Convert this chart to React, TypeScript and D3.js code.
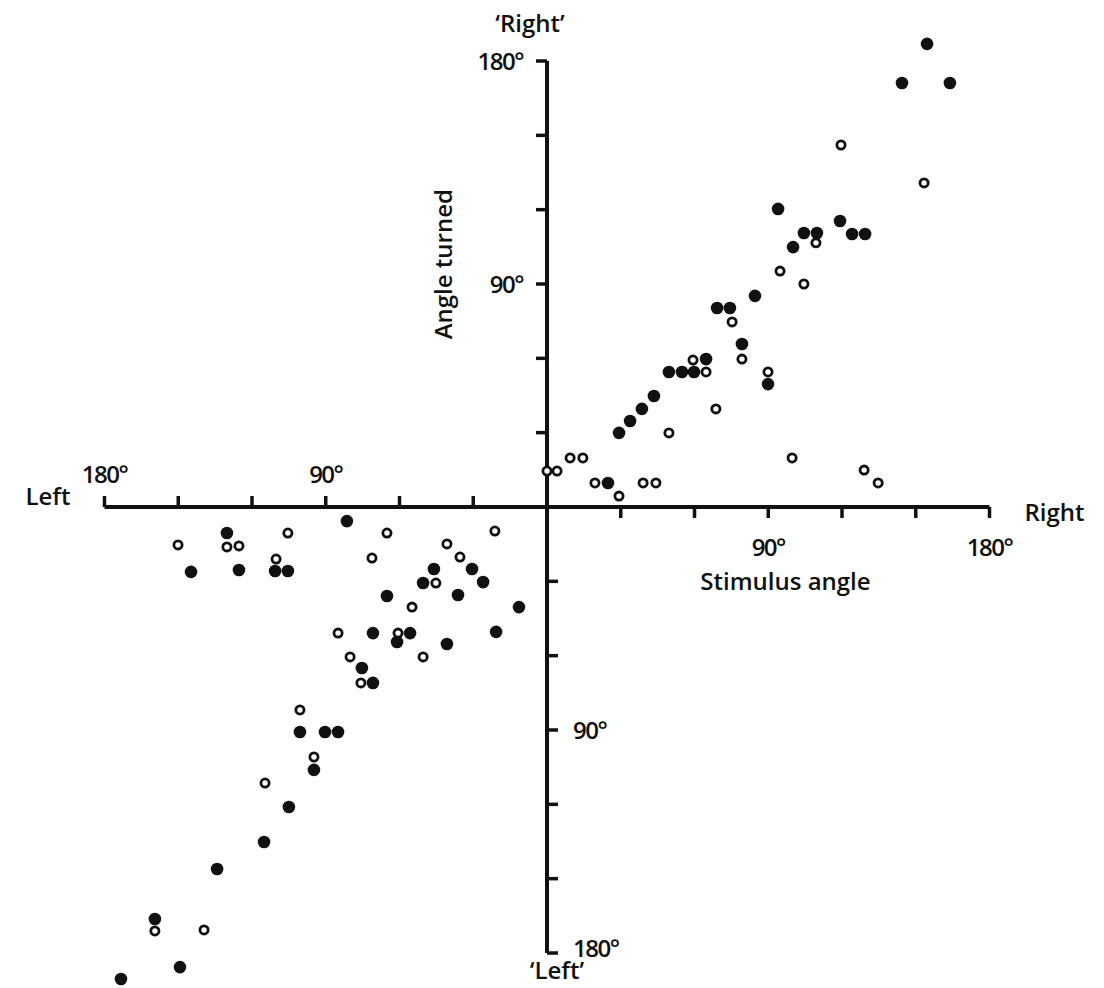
import * as d3 from 'd3'

// [stimulus angle, angle turned] in degrees; left = negative
const rightFilled: [number, number][] = [
  [154.6, 186.9], [144.4, 171.1], [163.9, 171.1], [94.0, 120.3], [119.2, 115.4],
  [104.5, 110.6], [109.8, 110.6], [124.1, 110.2], [129.4, 110.2], [100.1, 104.9],
  [84.6, 85.2], [69.2, 80.3], [74.4, 80.3], [79.3, 65.8], [49.6, 54.5],
  [54.9, 54.5], [59.8, 54.5], [64.7, 59.7], [89.9, 49.6], [43.5, 44.8],
  [38.6, 39.6], [33.8, 34.7], [29.3, 29.9], [24.8, 9.7]
]

const rightOpen: [number, number][] = [
  [119.6, 146.1], [153.4, 130.8], [109.4, 106.6], [94.8, 95.2], [104.5, 90.0],
  [75.3, 74.7], [79.3, 59.7], [59.4, 59.3], [64.7, 54.5], [89.9, 54.5],
  [68.7, 39.6], [49.6, 29.9], [99.7, 19.8], [0, 14.5], [4.1, 14.5],
  [9.4, 19.8], [14.6, 19.8], [19.5, 9.7], [29.3, 4.4], [39.1, 9.7],
  [44.3, 9.7], [129.0, 14.9], [134.7, 9.7]
]

const leftFilled: [number, number][] = [
  [-130.2, -10.5], [-144.8, -26.2], [-125.3, -25.4], [-110.6, -25.8], [-105.4, -25.8],
  [-81.4, -5.7], [-46.0, -25.0], [-50.4, -30.7], [-30.5, -25.0], [-26.0, -30.3],
  [-65.1, -35.9], [-36.2, -35.5], [-11.4, -40.4], [-70.8, -50.9], [-55.7, -50.9],
  [-61.0, -54.5], [-20.7, -50.4], [-40.7, -55.3], [-75.3, -65.0], [-70.8, -71.0],
  [-100.5, -90.8], [-90.3, -90.8], [-85.0, -90.8], [-94.8, -106.1], [-105.0, -121.1],
  [-115.1, -135.2], [-134.2, -146.1], [-159.5, -166.3], [-149.3, -185.7], [-173.3, -190.5]
]

const leftOpen: [number, number][] = [
  [-150.1, -15.3], [-130.2, -16.1], [-125.3, -15.7], [-105.4, -10.5], [-110.2, -21.0],
  [-65.1, -10.5], [-71.2, -20.6], [-21.2, -9.7], [-40.7, -14.9], [-35.4, -20.2],
  [-45.2, -30.7], [-54.9, -40.4], [-85.0, -50.9], [-60.6, -50.9], [-50.4, -60.5],
  [-80.1, -60.5], [-75.7, -71.0], [-100.5, -81.9], [-94.8, -100.9], [-114.7, -111.4],
  [-159.5, -171.1], [-139.5, -170.7]
]

const tickValues = [-180, -150, -120, -90, -60, -30, 30, 60, 90, 120, 150, 180]
const xLabels = [
  { v: -180, text: '180°' },
  { v: -90, text: '90°' },
  { v: 90, text: '90°' },
  { v: 180, text: '180°' }
]
const yLabels = [
  { v: 180, text: '180°' },
  { v: 90, text: '90°' },
  { v: -90, text: '90°' },
  { v: -180, text: '180°' }
]

const W = 1104
const H = 988
const ink = '#111'
const font = "'Open Sans', 'DejaVu Sans', sans-serif"

export default function App() {
  const x = d3.scaleLinear().domain([-180, 180]).range([104.5, 989.5])
  const y = d3.scaleLinear().domain([-180, 180]).range([953, 61])
  const x0 = x(0)
  const y0 = y(0)
  const tick = 11

  const filled = [...rightFilled, ...leftFilled]
  const open = [...rightOpen, ...leftOpen]

  const numStyle = { fontFamily: font, fontSize: 24, fontWeight: 600, letterSpacing: -1.5, fill: ink }
  const wordStyle = { fontFamily: font, fontSize: 24, fontWeight: 600, fill: ink }

  return (
    <svg width={W} height={H} style={{ position: 'absolute', left: 0, top: 0, background: '#fff' }}>
      <rect width={W} height={H} fill="#fff" />
      {/* axes */}
      <line x1={x(-180)} x2={x(180)} y1={y0} y2={y0} stroke={ink} strokeWidth={4} />
      <line x1={x0} x2={x0} y1={y(180)} y2={y(-180)} stroke={ink} strokeWidth={4} />
      {tickValues.map((v) => (
        <line
          key={'xt' + v}
          x1={x(v)}
          x2={x(v)}
          y1={y0}
          y2={v < 0 ? y0 - tick : y0 + tick}
          stroke={ink}
          strokeWidth={3.5}
        />
      ))}
      {tickValues.map((v) => (
        <line
          key={'yt' + v}
          y1={y(v)}
          y2={y(v)}
          x1={x0}
          x2={v > 0 ? x0 - tick : x0 + tick}
          stroke={ink}
          strokeWidth={3.5}
        />
      ))}
      {/* x tick labels */}
      {xLabels.map((d) => (
        <text
          key={'xl' + d.v + d.text}
          x={x(d.v)}
          y={d.v < 0 ? y0 - 24 : y0 + 49}
          textAnchor="middle"
          style={numStyle}
        >
          {d.text}
        </text>
      ))}
      {/* y tick labels */}
      {yLabels.map((d) => (
        <text
          key={'yl' + d.v}
          x={d.v > 0 ? x0 - 24 : x0 + 26}
          y={y(d.v) + (d.v === -180 ? 4 : 9)}
          textAnchor={d.v > 0 ? 'end' : 'start'}
          style={numStyle}
        >
          {d.text}
        </text>
      ))}
      {/* axis words */}
      <text x={x(-180) - 34} y={y0 - 2} textAnchor="end" style={wordStyle}>Left</text>
      <text x={x(180) + 35} y={y0 + 14} textAnchor="start" style={wordStyle}>Right</text>
      <text x={x(97)} y={y0 + 83} textAnchor="middle" style={wordStyle}>Stimulus angle</text>
      <text x={x0 - 17} y={32} textAnchor="middle" style={wordStyle}>‘Right’</text>
      <text x={x0 + 10} y={979} textAnchor="middle" style={wordStyle}>‘Left’</text>
      <text
        transform={`translate(${x0 - 95},${y(98)}) rotate(-90)`}
        textAnchor="middle"
        style={wordStyle}
      >
        Angle turned
      </text>
      {/* points */}
      {filled.map((d, i) => (
        <circle key={'f' + i} cx={x(d[0])} cy={y(d[1])} r={6.3} fill={ink} />
      ))}
      {open.map((d, i) => (
        <circle key={'o' + i} cx={x(d[0])} cy={y(d[1])} r={4.1} fill="#fff" stroke={ink} strokeWidth={2.8} />
      ))}
    </svg>
  )
}
